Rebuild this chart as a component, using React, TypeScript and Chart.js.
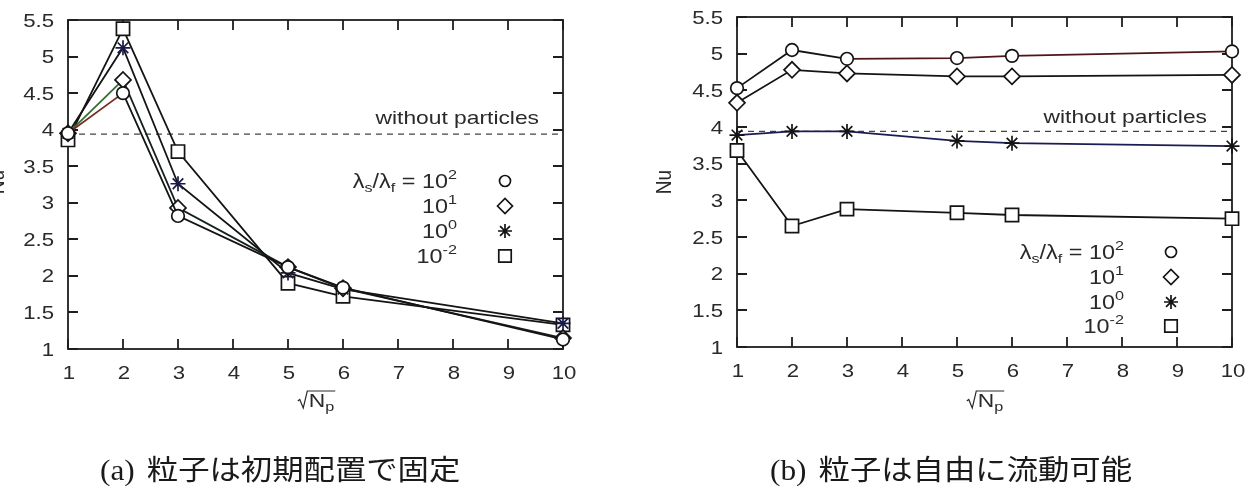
import { useEffect, useRef } from 'react';
import { Chart, registerables } from 'chart.js';

Chart.register(...registerables);

// √Np sample positions (shared by both panels)
const SQRT_NP = [1, 2, 3, 5, 6, 10];

// axis ticks
const X_TICKS = [1, 2, 3, 4, 5, 6, 7, 8, 9, 10];
const X_TICK_LABELS = ['1', '2', '3', '4', '5', '6', '7', '8', '9', '10'];
const Y_TICKS = [1, 1.5, 2, 2.5, 3, 3.5, 4, 4.5, 5, 5.5];
const Y_TICK_LABELS = ['1', '1.5', '2', '2.5', '3', '3.5', '4', '4.5', '5', '5.5'];

// reference Nusselt number of the flow without particles
const NU_NO_PARTICLES = 3.94;

// (a) particles fixed at their initial positions, one list per λs/λf
const FIXED_1E2 = [3.95, 4.5, 2.82, 2.12, 1.84, 1.13];
const FIXED_1E1 = [3.95, 4.68, 2.93, 2.12, 1.83, 1.15];
const FIXED_1E0 = [3.95, 5.12, 3.26, 2.04, 1.82, 1.35];
const FIXED_1EM2 = [3.86, 5.38, 3.7, 1.9, 1.72, 1.33];

// (b) freely moving particles
const FREE_1E2 = [4.53, 5.05, 4.93, 4.94, 4.97, 5.03];
const FREE_1E1 = [4.33, 4.78, 4.73, 4.69, 4.69, 4.71];
const FREE_1E0 = [3.89, 3.94, 3.94, 3.81, 3.78, 3.74];
const FREE_1EM2 = [3.68, 2.65, 2.88, 2.83, 2.8, 2.75];

// legend exponents of λs/λf
const LEGEND_EXPONENTS = ['2', '1', '0', '-2'];

const CAPTION_A_TAG = '(a)';
const CAPTION_A_TEXT = '粒子は初期配置で固定';
const CAPTION_B_TAG = '(b)';
const CAPTION_B_TEXT = '粒子は自由に流動可能';

const SANS = '"Liberation Sans", Arial, Helvetica, sans-serif';
const SERIF = '"Liberation Serif", "DejaVu Serif", serif';
const CJK = '"Noto Sans CJK JP", "Noto Sans CJK SC", sans-serif';
const SX = 1.2; // horizontal stretch of the lettering
const TEXT = '#2a2a2a';
const INK = '#141414';
const CW = 623;
const CH = 492;

type Mark = 'circle' | 'rectRot' | 'star' | 'rect';
const MARKS: Mark[] = ['circle', 'rectRot', 'star', 'rect'];
const RADII = [6.3, 8, 7.5, 9.3];

type Run = { t: string; size: number; dy?: number; family?: string };

function runsWidth(ctx: CanvasRenderingContext2D, runs: Run[], sx: number) {
  let w = 0;
  for (const r of runs) {
    ctx.font = `${r.size}px ${r.family ?? SANS}`;
    w += ctx.measureText(r.t).width * sx;
  }
  return w;
}

function drawRuns(
  ctx: CanvasRenderingContext2D,
  runs: Run[],
  x: number,
  y: number,
  align: 'left' | 'right' | 'center',
  color = TEXT,
  sx = SX
) {
  const w = runsWidth(ctx, runs, sx);
  let cx = align === 'right' ? x - w : align === 'center' ? x - w / 2 : x;
  const start = cx;
  for (const r of runs) {
    ctx.save();
    ctx.font = `${r.size}px ${r.family ?? SANS}`;
    ctx.fillStyle = color;
    ctx.textBaseline = 'alphabetic';
    ctx.textAlign = 'left';
    const rw = ctx.measureText(r.t).width * sx;
    ctx.translate(cx, y + (r.dy ?? 0));
    ctx.scale(sx, 1);
    ctx.fillText(r.t, 0, 0);
    ctx.restore();
    cx += rw;
  }
  return { start, end: cx };
}

function drawMarker(ctx: CanvasRenderingContext2D, style: Mark, x: number, y: number, r: number, color: string) {
  ctx.save();
  ctx.lineWidth = 1.7;
  ctx.strokeStyle = color;
  ctx.fillStyle = '#fff';
  ctx.beginPath();
  if (style === 'circle') ctx.arc(x, y, r, 0, Math.PI * 2);
  else if (style === 'rectRot') {
    ctx.moveTo(x - r, y);
    ctx.lineTo(x, y - r);
    ctx.lineTo(x + r, y);
    ctx.lineTo(x, y + r);
    ctx.closePath();
  } else if (style === 'rect') {
    const h = r * Math.SQRT1_2;
    ctx.rect(x - h, y - h, 2 * h, 2 * h);
  }
  if (style !== 'star') {
    ctx.fill();
    ctx.stroke();
  } else {
    for (let k = 0; k < 4; k++) {
      const a = (k * Math.PI) / 4;
      ctx.moveTo(x - Math.cos(a) * r, y - Math.sin(a) * r);
      ctx.lineTo(x + Math.cos(a) * r, y + Math.sin(a) * r);
    }
    ctx.stroke();
  }
  ctx.restore();
}

interface PanelSpec {
  left: number;
  area: { l: number; t: number; r: number; b: number };
  series: number[][];
  lineColors: string[];
  segColors: ((i: number) => string | undefined)[];
  markerColors: string[];
  noteRight: number;
  noteBase: number;
  legendRight: number;
  legendSymX: number;
  legendRows: number[];
  captionX: number;
  captionTag: string;
  captionText: string;
  nuX: number;
  xTitleX: number;
}

const STAR_INK = '#1a1a48';

const PANEL_A: PanelSpec = {
  left: 0,
  area: { l: 68, t: 20, r: 563, b: 349 },
  series: [FIXED_1E2, FIXED_1E1, FIXED_1E0, FIXED_1EM2],
  lineColors: [INK, '#15221a', INK, INK],
  segColors: [
    (i) => (i === 0 ? '#7a2a1c' : undefined),
    (i) => (i === 0 ? '#356d35' : undefined),
    () => undefined,
    () => undefined,
  ],
  markerColors: [INK, INK, STAR_INK, INK],
  noteRight: 539,
  noteBase: 124,
  legendRight: 457,
  legendSymX: 505,
  legendRows: [181, 206, 231, 256],
  captionX: 100,
  captionTag: CAPTION_A_TAG,
  captionText: CAPTION_A_TEXT,
  nuX: -2,
  xTitleX: 316,
};

const PANEL_B: PanelSpec = {
  left: 623,
  area: { l: 114, t: 17, r: 609, b: 347 },
  series: [FREE_1E2, FREE_1E1, FREE_1E0, FREE_1EM2],
  lineColors: [INK, INK, '#1c1c55', INK],
  segColors: [
    (i) => (i >= 2 ? '#4e1616' : undefined),
    () => undefined,
    () => undefined,
    () => undefined,
  ],
  markerColors: [INK, INK, INK, INK],
  noteRight: 584,
  noteBase: 123,
  legendRight: 501,
  legendSymX: 548,
  legendRows: [252, 277, 302, 326],
  captionX: 147,
  captionTag: CAPTION_B_TAG,
  captionText: CAPTION_B_TEXT,
  nuX: 42,
  xTitleX: 362,
};

function framePlugin(spec: PanelSpec) {
  return {
    id: 'gnuFrame',
    beforeDatasetsDraw(chart: any) {
      const ctx: CanvasRenderingContext2D = chart.ctx;
      const { left, right, top, bottom } = chart.chartArea;
      const xs = chart.scales.x;
      const ys = chart.scales.y;
      ctx.save();
      ctx.strokeStyle = '#1e1e1e';
      ctx.lineWidth = 1.8;
      ctx.strokeRect(left, top, right - left, bottom - top);
      ctx.beginPath();
      const tl = 10;
      for (const v of X_TICKS) {
        const px = Math.round(xs.getPixelForValue(v));
        ctx.moveTo(px, bottom);
        ctx.lineTo(px, bottom - tl);
        ctx.moveTo(px, top);
        ctx.lineTo(px, top + tl);
      }
      for (const v of Y_TICKS) {
        const py = Math.round(ys.getPixelForValue(v));
        ctx.moveTo(left, py);
        ctx.lineTo(left + tl, py);
        ctx.moveTo(right, py);
        ctx.lineTo(right - tl, py);
      }
      ctx.stroke();
      ctx.restore();
    },
    afterDraw(chart: any) {
      const ctx: CanvasRenderingContext2D = chart.ctx;
      const { left, bottom } = chart.chartArea;
      const xs = chart.scales.x;
      const ys = chart.scales.y;
      // tick labels
      Y_TICKS.forEach((v, i) => {
        const py = ys.getPixelForValue(v);
        drawRuns(ctx, [{ t: Y_TICK_LABELS[i], size: 18.5 }], left - 14, py + 6.5, 'right');
      });
      X_TICKS.forEach((v, i) => {
        const px = xs.getPixelForValue(v);
        drawRuns(ctx, [{ t: X_TICK_LABELS[i], size: 18.5 }], px + 1, bottom + 30, 'center');
      });
      // x title: √Np
      const base = 407;
      const runs: Run[] = [
        { t: 'N', size: 19 },
        { t: 'p', size: 13.5, dy: 4 },
      ];
      const w = runsWidth(ctx, runs, SX) + 11;
      const x0 = spec.xTitleX - w / 2;
      ctx.save();
      ctx.strokeStyle = TEXT;
      ctx.lineWidth = 1.2;
      ctx.beginPath();
      ctx.moveTo(x0, base - 6);
      ctx.lineTo(x0 + 2, base - 7.5);
      ctx.lineTo(x0 + 5.5, base + 1);
      ctx.lineTo(x0 + 9.5, base - 16);
      ctx.lineTo(x0 + w + 1, base - 16);
      ctx.stroke();
      ctx.restore();
      drawRuns(ctx, runs, x0 + 11, base, 'left');
      // y title: Nu
      ctx.save();
      ctx.translate(spec.nuX, 182);
      ctx.rotate(-Math.PI / 2);
      ctx.scale(1, SX);
      ctx.font = `19px ${SANS}`;
      ctx.fillStyle = TEXT;
      ctx.textAlign = 'center';
      ctx.textBaseline = 'middle';
      ctx.fillText('Nu', 0, 0);
      ctx.restore();
      // reference line annotation
      drawRuns(ctx, [{ t: 'without particles', size: 19 }], spec.noteRight, spec.noteBase, 'right');
      // key
      spec.legendRows.forEach((cy, i) => {
        const exp = LEGEND_EXPONENTS[i];
        const label: Run[] =
          i === 0
            ? [
                { t: 'λ', size: 19.5 },
                { t: 's', size: 13.5, dy: 4 },
                { t: '/λ', size: 19.5 },
                { t: 'f', size: 13.5, dy: 4 },
                { t: ' = 10', size: 19.5 },
                { t: exp, size: 13.5, dy: -9 },
              ]
            : [
                { t: '10', size: 19.5 },
                { t: exp, size: 13.5, dy: -9 },
              ];
        drawRuns(ctx, label, spec.legendRight, cy + 7, 'right');
        drawMarker(ctx, MARKS[i], spec.legendSymX, cy, i === 0 ? 5.5 : RADII[i] - 0.5, INK);
      });
      // caption
      const cap = drawRuns(ctx, [{ t: spec.captionTag, size: 28.5, family: SERIF }], spec.captionX, 480, 'left', '#1a1a1a', 1.1);
      drawRuns(ctx, [{ t: spec.captionText, size: 28.5, family: CJK }], cap.end + 12, 480, 'left', '#1a1a1a', 1.1);
    },
  };
}

function buildConfig(spec: PanelSpec): any {
  const datasets: any[] = spec.series.map((vals, k) => ({
    data: SQRT_NP.map((x, i) => ({ x, y: vals[i] })),
    borderColor: spec.lineColors[k],
    borderWidth: 1.8,
    pointStyle: MARKS[k],
    pointRadius: RADII[k],
    pointBorderColor: spec.markerColors[k],
    pointBackgroundColor: '#fff',
    pointBorderWidth: 1.7,
    tension: 0,
    clip: false,
    segment: { borderColor: (c: any) => spec.segColors[k](c.p0DataIndex) },
  }));
  datasets.push({
    data: [
      { x: 1, y: NU_NO_PARTICLES },
      { x: 10, y: NU_NO_PARTICLES },
    ],
    borderColor: '#444',
    borderWidth: 1.2,
    borderDash: [6, 5],
    pointRadius: 0,
    clip: false,
  });
  const { area } = spec;
  return {
    type: 'line',
    data: { datasets },
    options: {
      responsive: false,
      animation: false,
      devicePixelRatio: 1,
      events: [],
      layout: { padding: { left: 0, top: area.t, right: CW - area.r, bottom: 0 } },
      plugins: { legend: { display: false }, tooltip: { enabled: false } },
      scales: {
        x: {
          type: 'linear',
          min: 1,
          max: 10,
          grid: { display: false },
          border: { display: false },
          ticks: { display: false, stepSize: 1 },
          afterFit: (s: any) => {
            s.height = CH - area.b;
          },
        },
        y: {
          type: 'linear',
          min: 1,
          max: 5.5,
          grid: { display: false },
          border: { display: false },
          ticks: { display: false, stepSize: 0.5 },
          afterFit: (s: any) => {
            s.width = area.l;
          },
        },
      },
    },
    plugins: [framePlugin(spec)],
  };
}

function Panel({ spec }: { spec: PanelSpec }) {
  const ref = useRef<HTMLCanvasElement>(null);
  useEffect(() => {
    if (!ref.current) return;
    const chart = new Chart(ref.current, buildConfig(spec));
    return () => chart.destroy();
  }, [spec]);
  return (
    <canvas
      ref={ref}
      width={CW}
      height={CH}
      style={{ position: 'absolute', left: spec.left, top: 0, width: CW, height: CH }}
    />
  );
}

export default function App() {
  return (
    <div style={{ position: 'absolute', left: 0, top: 0, width: 1246, height: 492, background: '#fff', overflow: 'hidden' }}>
      <Panel spec={PANEL_A} />
      <Panel spec={PANEL_B} />
    </div>
  );
}
